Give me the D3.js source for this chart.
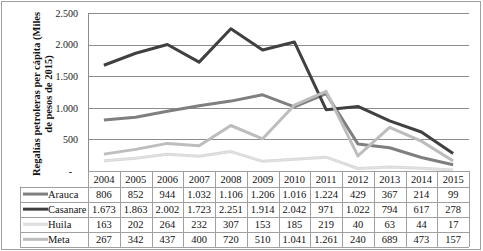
<!DOCTYPE html>
<html>
<head>
<meta charset="utf-8">
<script src="https://cdn.jsdelivr.net/npm/d3@7"></script>
<style>
    body { margin: 0; background: #fff; }
    svg { display: block; }
    svg text { font-family: "Liberation Serif", "DejaVu Serif", serif; }
</style>
</head>
<body>
<svg id="chart" width="483" height="251"></svg>
<script>
// chart values
const years = ["2004", "2005", "2006", "2007", "2008", "2009", "2010", "2011", "2012", "2013", "2014", "2015"];
const arauca = [806, 852, 944, 1032, 1106, 1206, 1016, 1224, 429, 367, 214, 99];
const casanare = [1673, 1863, 2002, 1723, 2251, 1914, 2042, 971, 1022, 794, 617, 278];
const huila = [163, 202, 264, 232, 307, 153, 185, 219, 40, 63, 44, 17];
const meta = [267, 342, 437, 400, 720, 510, 1041, 1261, 240, 689, 473, 157];
const seriesNames = ["Arauca", "Casanare", "Huila", "Meta"];
const yTicks = [0, 500, 1000, 1500, 2000, 2500];

const series = [
    { name: seriesNames[0], values: arauca, color: "#7f7f7f" },
    { name: seriesNames[1], values: casanare, color: "#404040" },
    { name: seriesNames[2], values: huila, color: "#d9d9d9", dotted: true },
    { name: seriesNames[3], values: meta, color: "#bdbdbd" }
];

const svg = d3.select("svg#chart");
const plot = { left: 88, right: 469, top: 13, bottom: 171 };
const tableLeft = 20;
const headerH = 15.5;
const rowH = 15.1;
const gridColor = "#8c8c8c";
const borderColor = "#a0a0a0";
const serif = "'Liberation Serif', 'DejaVu Serif', serif";

const locale = d3.formatLocale({ decimal: ",", thousands: ".", grouping: [3], currency: ["$", ""] });
const fmt = locale.format(",d");

// outer frame
svg.append("rect")
    .attr("x", 1.5).attr("y", 1.5)
    .attr("width", 479).attr("height", 248)
    .attr("fill", "none")
    .attr("stroke", borderColor);

const x = d3.scaleBand().domain(years).range([plot.left, plot.right]);
const y = d3.scaleLinear().domain([0, 2500]).range([plot.bottom, plot.top]);
const cx = d => x(d) + x.bandwidth() / 2;

// gridlines + y labels
const yAxis = d3.axisLeft(y)
    .tickValues(yTicks)
    .tickSize(-(plot.right - plot.left))
    .tickPadding(10)
    .tickFormat(d => d === 0 ? "-" : fmt(d));

const gy = svg.append("g")
    .attr("transform", `translate(${plot.left},0)`)
    .call(yAxis)
    .attr("font-family", serif);
gy.select(".domain").remove();
gy.selectAll(".tick line").attr("stroke", gridColor).attr("shape-rendering", "crispEdges");
gy.selectAll(".tick text")
    .attr("font-family", serif)
    .attr("font-size", 10)
    .attr("fill", "#222");
gy.selectAll(".tick").filter(d => d === 0).select("text").attr("font-weight", "bold").attr("dx", -6);

// left vertical axis line
svg.append("line")
    .attr("x1", plot.left).attr("x2", plot.left)
    .attr("y1", plot.top).attr("y2", plot.bottom)
    .attr("stroke", gridColor)
    .attr("shape-rendering", "crispEdges");

// y axis title (two lines, bold)
const title = svg.append("text")
    .attr("transform", `translate(40, 94) rotate(-90)`)
    .attr("text-anchor", "middle")
    .attr("font-family", serif)
    .attr("font-weight", "bold")
    .attr("font-size", 10.5)
    .attr("fill", "#111");
title.append("tspan").attr("x", 0).attr("dy", 0).text("Regalías petroleras per cápita (Miles");
title.append("tspan").attr("x", 0).attr("dy", 12).text("de pesos de 2015)");

// lines
const line = d3.line()
    .x((v, i) => cx(years[i]))
    .y(v => y(v));

series.forEach(s => {
    svg.append("path")
        .datum(s.values)
        .attr("d", line)
        .attr("fill", "none")
        .attr("stroke", s.color)
        .attr("stroke-width", 3)
        .attr("stroke-linejoin", "round");
    if (s.dotted) {
        svg.append("path")
            .datum(s.values)
            .attr("d", line)
            .attr("fill", "none")
            .attr("stroke", "#f2f2f2")
            .attr("stroke-width", 1)
            .attr("stroke-dasharray", "1,1.5");
    }
});

// data table
const table = svg.append("g").attr("class", "table").attr("font-family", serif);
const tableTop = plot.bottom;
const tableBottom = tableTop + headerH + rowH * series.length;

// header cells
table.selectAll(".year")
    .data(years)
    .enter()
    .append("text")
    .attr("x", d => cx(d))
    .attr("y", tableTop + headerH / 2 + 4)
    .attr("text-anchor", "middle")
    .attr("font-size", 10.5)
    .attr("fill", "#111")
    .text(d => d);

// horizontal rules
const hLines = [tableTop, tableTop + headerH];
series.forEach((s, i) => hLines.push(tableTop + headerH + rowH * (i + 1)));
table.selectAll(".hline")
    .data(hLines)
    .enter()
    .append("line")
    .attr("x1", (d, i) => i === 0 ? plot.left : tableLeft)
    .attr("x2", plot.right)
    .attr("y1", d => Math.round(d) + 0.5)
    .attr("y2", d => Math.round(d) + 0.5)
    .attr("stroke", borderColor);

// vertical rules
const vLines = years.map(d => x(d)).concat([plot.right]);
table.selectAll(".vline")
    .data(vLines)
    .enter()
    .append("line")
    .attr("x1", d => Math.round(d) + 0.5)
    .attr("x2", d => Math.round(d) + 0.5)
    .attr("y1", tableTop)
    .attr("y2", tableBottom)
    .attr("stroke", borderColor);
table.append("line")
    .attr("x1", tableLeft + 0.5).attr("x2", tableLeft + 0.5)
    .attr("y1", tableTop + headerH).attr("y2", tableBottom)
    .attr("stroke", borderColor);

// rows
series.forEach((s, i) => {
    const rowMid = tableTop + headerH + rowH * i + rowH / 2;
    const row = table.append("g");
    row.append("line")
        .attr("x1", tableLeft + 3).attr("x2", tableLeft + 28)
        .attr("y1", rowMid).attr("y2", rowMid)
        .attr("stroke", s.color)
        .attr("stroke-width", 3);
    if (s.dotted) {
        row.append("line")
            .attr("x1", tableLeft + 3).attr("x2", tableLeft + 28)
            .attr("y1", rowMid).attr("y2", rowMid)
            .attr("stroke", "#f2f2f2")
            .attr("stroke-width", 1)
            .attr("stroke-dasharray", "1,1.5");
    }
    row.append("text")
        .attr("x", tableLeft + 28)
        .attr("y", rowMid + 4)
        .attr("font-size", 10.5)
        .attr("fill", "#111")
        .text(s.name);
    row.selectAll(".val")
        .data(s.values)
        .enter()
        .append("text")
        .attr("x", (v, j) => cx(years[j]))
        .attr("y", rowMid + 4)
        .attr("text-anchor", "middle")
        .attr("font-size", 10.5)
        .attr("fill", "#111")
        .text(v => fmt(v));
});
</script>
</body>
</html>
